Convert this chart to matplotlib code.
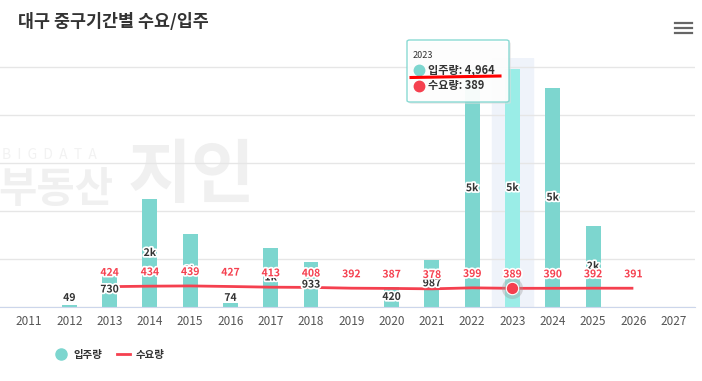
import numpy as np
import matplotlib.pyplot as plt
import matplotlib.patheffects as pe
from matplotlib.patches import FancyBboxPatch
from matplotlib.lines import Line2D

plt.rcParams['font.family'] = ['Noto Sans CJK KR', 'DejaVu Sans']

years = list(range(2011, 2028))
supply = [np.nan, 49, 730, 2250, 1520, 74, 1230, 933, np.nan, 420, 987, 4950, 4964, 4560, 1690, np.nan, np.nan]
demand = [np.nan, np.nan, 424, 434, 439, 427, 413, 408, 392, 387, 378, 399, 389, 390, 392, 391, np.nan]
hl_year = 2023

W, H = 702, 381
teal = '#7dd6cf'
teal_hl = '#9aede7'
red = '#f5404f'

def fx(x):
    return x / W

def fy(y):
    return 1 - y / H

fig = plt.figure(figsize=(W / 100, H / 100), dpi=100)
ax = fig.add_axes([0, fy(307), fx(695), fy(58) - fy(307)])
ax.set_facecolor('none')

# watermark
fig.text(fx(2), fy(155), '  '.join('BIGDATA'), fontsize=10, color='#f2f2f2', va='center', zorder=-1)
fig.text(fx(-2), fy(190), '부동산', fontsize=30, fontweight='bold', color='#f0f0f0', va='center', zorder=-1)
fig.text(fx(128), fy(177), '지인', fontsize=50, fontweight='bold', color='#f0f0f0', va='center', zorder=-1)

x = np.array(years, dtype=float)
s = np.array(supply, dtype=float)
d = np.array(demand, dtype=float)

# highlight band
ax.axvspan(hl_year - 0.5, hl_year + 0.5, color='#eff3fa', zorder=0)

colors = [teal_hl if yr == hl_year else teal for yr in years]
ax.bar(x, np.nan_to_num(s), width=0.37, color=colors, zorder=2)

ax.plot(x, d, color=red, lw=2, zorder=3, solid_capstyle='butt')
i_hl = years.index(hl_year)
ax.scatter([hl_year], [d[i_hl]], s=230, color='#999999', alpha=0.35, zorder=4, lw=0)
ax.scatter([hl_year], [d[i_hl]], s=80, color=red, edgecolor='white', lw=0.8, zorder=5)

stroke = [pe.withStroke(linewidth=2.5, foreground='white')]
for xi, v in zip(x, s):
    if np.isnan(v):
        continue
    lab = f'{round(v / 1000)}k' if v >= 1000 else f'{int(v)}'
    ax.text(xi, max(v / 2, 190), lab, ha='center', va='center', fontsize=7.5,
            fontweight='bold', color='#333333', path_effects=stroke, zorder=6)
for xi, v in zip(x, d):
    if np.isnan(v):
        continue
    ax.annotate(f'{int(v)}', (xi, v), xytext=(0, 10), textcoords='offset points',
                ha='center', va='center', fontsize=7.5, fontweight='bold', color=red,
                path_effects=stroke, zorder=7)

ax.set_xlim(2010.28, 2027.53)
ax.set_ylim(0, 5187)
ax.set_yticks([0, 1000, 2000, 3000, 4000, 5000])
ax.yaxis.grid(True, color='#e6e6e6', lw=1)
ax.set_axisbelow(True)
ax.tick_params(axis='y', left=False, labelleft=False)
ax.set_xticks(years)
ax.set_xticklabels([str(y) for y in years], fontsize=8.5, color='#555555')
ax.tick_params(axis='x', length=0, pad=6)
for side in ['top', 'right', 'left']:
    ax.spines[side].set_visible(False)
ax.spines['bottom'].set_color('#ccd6eb')

# title and menu icon
fig.text(fx(18), fy(22), '대구 중구기간별 수요/입주', fontsize=12.5, fontweight='bold', color='#333333', va='center')
for yy in [23.3, 28.3, 33.3]:
    fig.add_artist(Line2D([fx(675), fx(692)], [fy(yy), fy(yy)], color='#666666', lw=1.6))

# tooltip
fig.add_artist(FancyBboxPatch((fx(409), fy(104)), fx(102), fy(42) - fy(104),
                              boxstyle='round,pad=0,rounding_size=0.004', facecolor='#dddddd',
                              edgecolor='none', alpha=0.5, zorder=8))
fig.add_artist(FancyBboxPatch((fx(407), fy(102)), fx(102), fy(40) - fy(102),
                              boxstyle='round,pad=0,rounding_size=0.004', facecolor='white',
                              edgecolor=teal, lw=1, alpha=0.9, zorder=9))
fig.text(fx(413), fy(55), '2023', fontsize=6.5, color='#333333', va='center', zorder=10)
fig.add_artist(Line2D([fx(419)], [fy(70)], marker='o', markersize=7.5, color=teal, ls='none', zorder=10))
fig.text(fx(428), fy(70), '입주량: 4,964', fontsize=8, fontweight='bold', color='#333333', va='center', zorder=10)
fig.add_artist(Line2D([fx(419)], [fy(86)], marker='o', markersize=7.5, color=red, ls='none', zorder=10))
fig.text(fx(428), fy(86), '수요량: 389', fontsize=8, fontweight='bold', color='#333333', va='center', zorder=10)
fig.add_artist(Line2D([fx(411), fx(500)], [fy(77.5), fy(76)], color='#ff0000', lw=2.2, zorder=11))

# legend
handles = [Line2D([], [], marker='o', ls='none', color=teal, markersize=8, label='입주량'),
           Line2D([], [], color=red, lw=2, label='수요량')]
leg = fig.legend(handles=handles, loc='center left', bbox_to_anchor=(fx(45), fy(355)), ncol=2,
                 frameon=False, handlelength=1.3, columnspacing=1.4, handletextpad=0.5,
                 prop={'size': 7.5, 'weight': 'bold'})
for t in leg.get_texts():
    t.set_color('#333333')

fig.savefig('out.png', dpi=100)
